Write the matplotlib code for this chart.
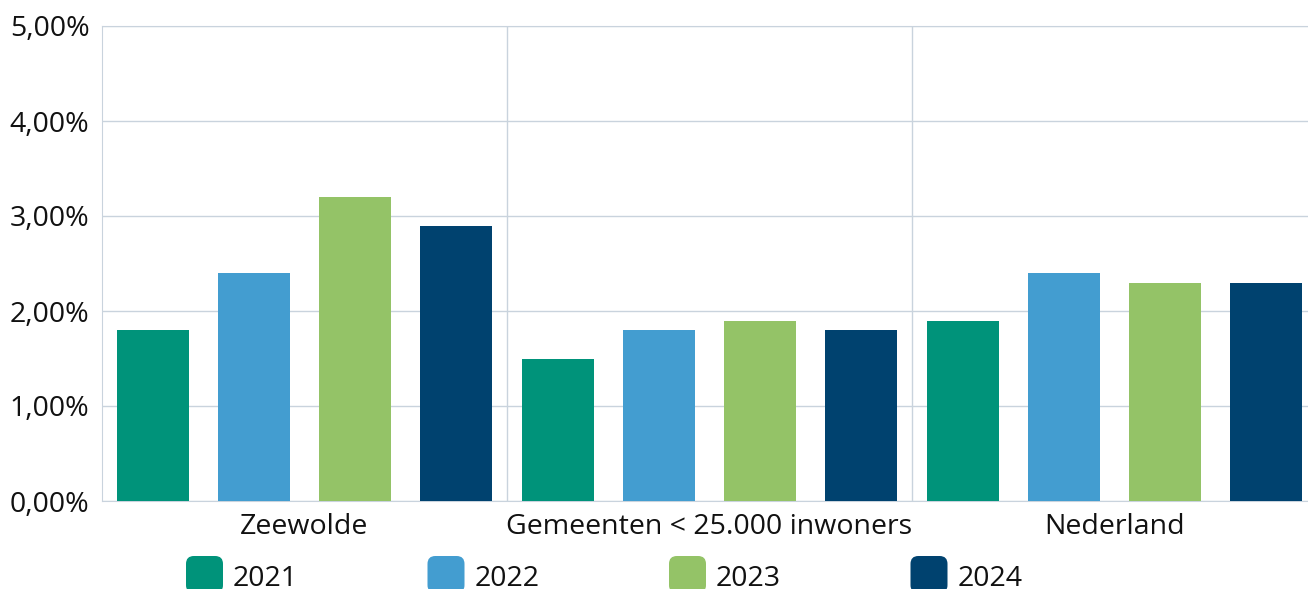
import numpy as np
import matplotlib.pyplot as plt
from matplotlib.patches import FancyBboxPatch
from matplotlib.ticker import FuncFormatter

plt.rcParams['font.family'] = ['Open Sans', 'DejaVu Sans']

categories = ['Zeewolde', 'Gemeenten < 25.000 inwoners', 'Nederland']
years = ['2021', '2022', '2023', '2024']
values = {
    '2021': [1.8, 1.5, 1.9],
    '2022': [2.4, 1.8, 2.4],
    '2023': [3.2, 1.9, 2.3],
    '2024': [2.9, 1.8, 2.3],
}
colors = ['#00937A', '#439DD0', '#94C367', '#00426F']

W, H = 1308, 589
fig = plt.figure(figsize=(W / 100, H / 100), dpi=100)
ax = fig.add_axes([102 / W, 88 / H, 1215 / W, 475 / H])

x = np.arange(len(categories))
slot = 0.25
for j, year in enumerate(years):
    ax.bar(x + (j - 1.5) * slot, values[year], width=slot * 0.71,
           color=colors[j], zorder=3)

grid_c = '#C9D3DD'
ax.set_xlim(-0.5, len(categories) - 0.5)
ax.set_ylim(0, 5)
ax.set_yticks(np.arange(0, 6, 1))
ax.yaxis.set_major_formatter(FuncFormatter(lambda v, p: f'{v:.2f}%'.replace('.', ',')))
ax.set_xticks(x)
ax.set_xticklabels(categories)
ax.set_xticks(np.arange(0.5, len(categories) - 0.5, 1), minor=True)
ax.grid(axis='y', color=grid_c, linewidth=1, zorder=0)
ax.grid(axis='x', which='minor', color=grid_c, linewidth=1, zorder=0)
ax.tick_params(axis='both', which='both', length=0, labelsize=20.5, colors='#111111')
ax.tick_params(axis='y', pad=9)
ax.tick_params(axis='x', pad=9)
ax.spines['right'].set_visible(False)
for side in ['left', 'bottom', 'top']:
    ax.spines[side].set_color(grid_c)

# legend along the bottom
for j, year in enumerate(years):
    x0 = 186 + j * 241.5
    box = FancyBboxPatch((x0 / W, (H - 593) / H), 37 / W, 37 / H,
                         boxstyle='round,pad=0,rounding_size=0.006',
                         transform=fig.transFigure, facecolor=colors[j],
                         edgecolor='none', mutation_aspect=W / H)
    fig.patches.append(box)
    fig.text((x0 + 47) / W, (H - 586) / H, year, fontsize=20.5,
             color='#111111', va='baseline', ha='left')

fig.savefig('out.png', dpi=100)
